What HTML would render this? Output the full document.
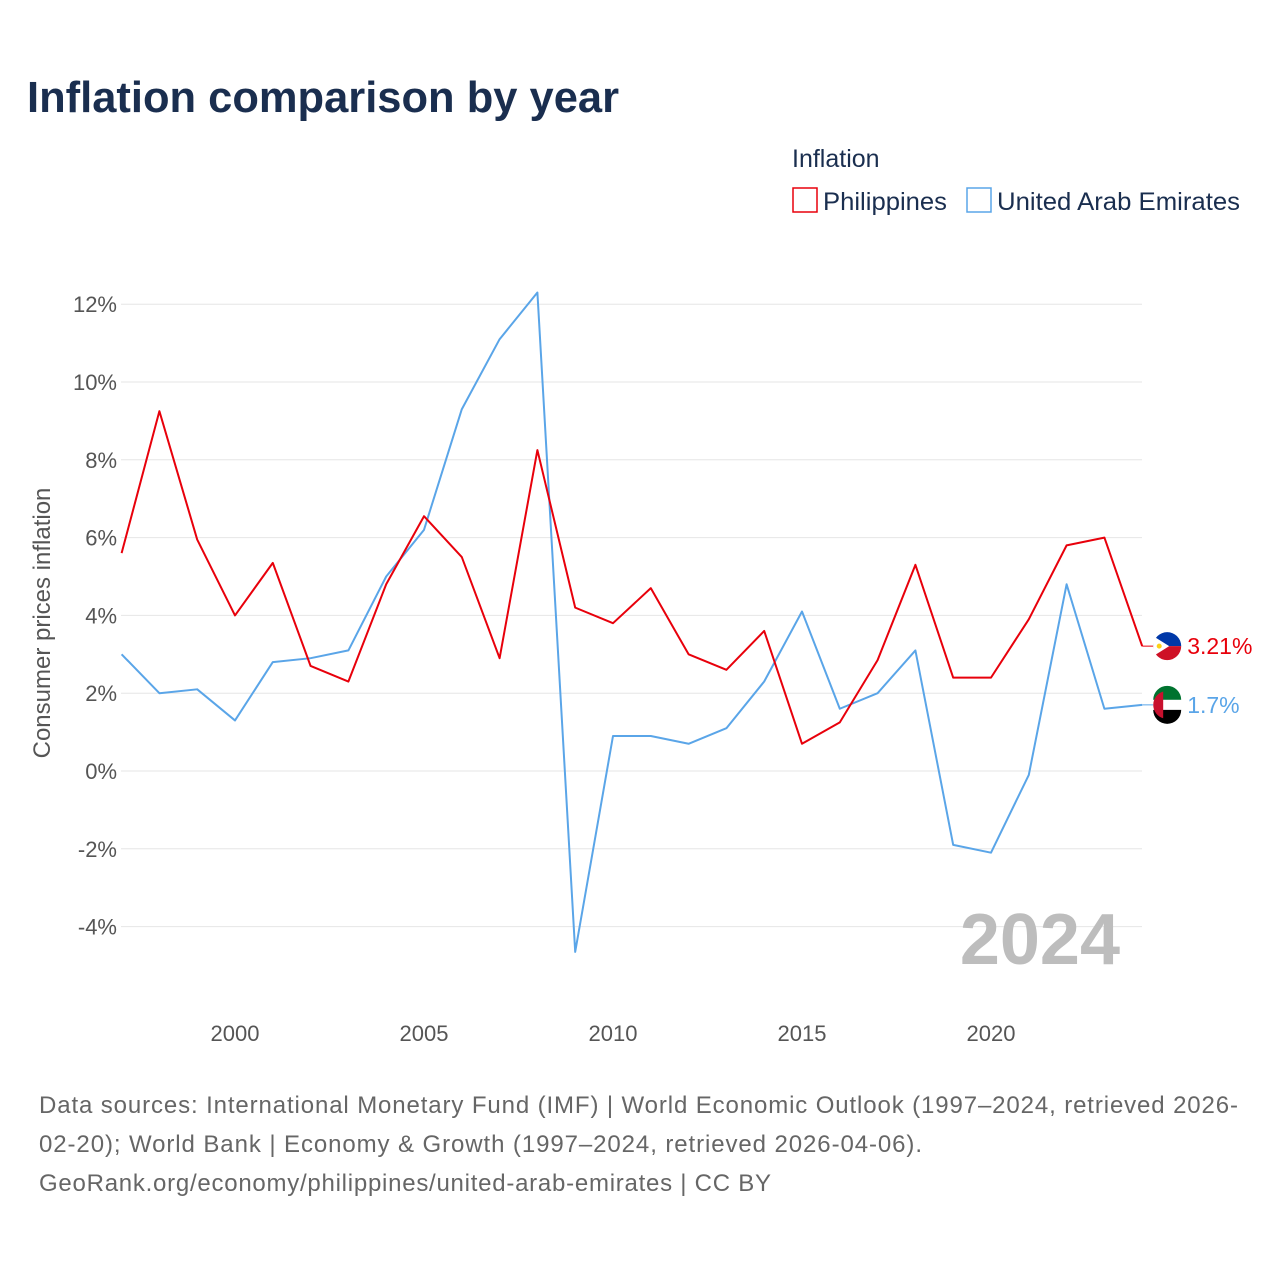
<!DOCTYPE html>
<html><head><meta charset="utf-8">
<style>
body{margin:0;background:#fff;font-family:"Liberation Sans",sans-serif;}
#wrap{position:relative;width:1280px;height:1280px;overflow:hidden;background:#fff;}
</style></head>
<body>
<div id="wrap">
<svg id="chart" width="1280" height="1280" style="position:absolute;left:0;top:0">
<text x="27" y="112" font-size="44" font-weight="bold" fill="#1a2e4f" textLength="592" lengthAdjust="spacingAndGlyphs">Inflation comparison by year</text>
<text x="792" y="167" font-size="25" fill="#1a2e4f">Inflation</text>
<g>
<rect x="793" y="188" width="24" height="24" fill="none" stroke="#e8000b" stroke-width="1.5"/>
<text x="823" y="210" font-size="25" fill="#1a2e4f" textLength="124" lengthAdjust="spacingAndGlyphs">Philippines</text></g>
<g>
<rect x="967" y="188" width="24" height="24" fill="none" stroke="#5aa5e8" stroke-width="1.5"/>
<text x="997" y="210" font-size="25" fill="#1a2e4f" textLength="243" lengthAdjust="spacingAndGlyphs">United Arab Emirates</text></g>
<g id="grid"></g>
<g id="yticks"></g>
<g id="xticks"></g>
<text transform="translate(50,623) rotate(-90)" text-anchor="middle" font-size="24" fill="#555">Consumer prices inflation</text>
<text x="1120" y="964" text-anchor="end" font-size="72" font-weight="bold" fill="#bdbdbd">2024</text>
<g id="series"></g>
<text x="39" y="1113" font-size="24" fill="#666" textLength="1199" lengthAdjust="spacing">Data sources: International Monetary Fund (IMF) | World Economic Outlook (1997–2024, retrieved 2026-</text>
<text x="39" y="1152" font-size="24" fill="#666" textLength="883" lengthAdjust="spacing">02-20); World Bank | Economy &amp; Growth (1997–2024, retrieved 2026-04-06).</text>
<text x="39" y="1191" font-size="24" fill="#666" textLength="732" lengthAdjust="spacing">GeoRank.org/economy/philippines/united-arab-emirates | CC BY</text>
</svg>
</div>
<script>
const years = [1997,1998,1999,2000,2001,2002,2003,2004,2005,2006,2007,2008,2009,2010,2011,2012,2013,2014,2015,2016,2017,2018,2019,2020,2021,2022,2023,2024];
const philippines = [5.6,9.25,5.95,4.0,5.35,2.7,2.3,4.8,6.55,5.5,2.9,8.25,4.2,3.8,4.7,3.0,2.6,3.6,0.7,1.25,2.85,5.3,2.4,2.4,3.9,5.8,6.0,3.21];
const uae = [3.0,2.0,2.1,1.3,2.8,2.9,3.1,5.0,6.2,9.3,11.1,12.3,-4.65,0.9,0.9,0.7,1.1,2.3,4.1,1.6,2.0,3.1,-1.9,-2.1,-0.1,4.8,1.6,1.7];
const yTicks = [-4,-2,0,2,4,6,8,10,12];
const xTicks = [2000,2005,2010,2015,2020];
const NS='http://www.w3.org/2000/svg';
const X = y => 121.6 + (y-1997)*37.8;
const Y = v => 771 - v*38.9;
function mk(tag, attrs, parent){const e=document.createElementNS(NS,tag);for(const k in attrs)e.setAttribute(k,attrs[k]);parent.appendChild(e);return e;}
const grid=document.getElementById('grid'), yt=document.getElementById('yticks'), xt=document.getElementById('xticks'), ser=document.getElementById('series');
yTicks.forEach(v=>{
  const l=mk('line',{x1:121,x2:1142,y1:Y(v),y2:Y(v),stroke:'#e6e6e6','stroke-width':1},grid);
  
  
  const t=mk('text',{x:117,y:Y(v)+8,'text-anchor':'end','font-size':22,fill:'#555'},yt);
  t.textContent=v+'%';
  
  
});
xTicks.forEach(v=>{
  const t=mk('text',{x:X(v),y:1041,'text-anchor':'middle','font-size':22,fill:'#555'},xt);
  t.textContent=v;
  
  
});
function line(data,color,name){
  const p=mk('polyline',{points:data.map((v,i)=>X(years[i])+','+Y(v)).join(' '),fill:'none',stroke:color,'stroke-width':2,'stroke-linejoin':'round'},ser);
  
  
}
line(uae,'#5aa5e8','uae-line');
line(philippines,'#e8000b','philippines-line');
function endLabel(val,color,name,flag){
  const yy=Y(val), x0=X(2024);
  mk('line',{x1:x0,x2:x0+12,y1:yy,y2:yy,stroke:color,'stroke-width':1},ser);
  const cx=x0+25, g=mk('g',{},ser);
  
  
  if(flag==='ph'){
    mk('path',{d:`M${cx-14},${yy} A14,14 0 0 1 ${cx+14},${yy} Z`,fill:'#0038a8'},g);
    mk('path',{d:`M${cx-14},${yy} A14,14 0 0 0 ${cx+14},${yy} Z`,fill:'#ce1126'},g);
    mk('path',{d:`M${cx-14},${yy-10} L${cx+2},${yy} L${cx-14},${yy+10} Z`,fill:'#fff'},g);
    mk('circle',{cx:cx-8,cy:yy,r:2.5,fill:'#fcd116'},g);
  } else {
    mk('path',{d:`M${cx-14},${yy-5} A14,14 0 0 1 ${cx+14},${yy-5} Z`,fill:'#00732f'},g);
    mk('rect',{x:cx-14,y:yy-5,width:28,height:10,fill:'#fff'},g);
    mk('path',{d:`M${cx-14},${yy+5} A14,14 0 0 0 ${cx+14},${yy+5} Z`,fill:'#000'},g);
    mk('path',{d:`M${cx-4},${yy-13.4} A14,14 0 0 0 ${cx-4},${yy+13.4} Z`,fill:'#c8102e'},g);
  }
  const t=mk('text',{x:cx+20,y:yy+8,'font-size':23,fill:color},ser);
  t.textContent=(flag==='ph'?val.toFixed(2):val.toFixed(1))+'%';
  
  
}
endLabel(philippines[philippines.length-1],'#e8000b','philippines','ph');
endLabel(uae[uae.length-1],'#5aa5e8','uae','ae');
</script>
</body></html>
